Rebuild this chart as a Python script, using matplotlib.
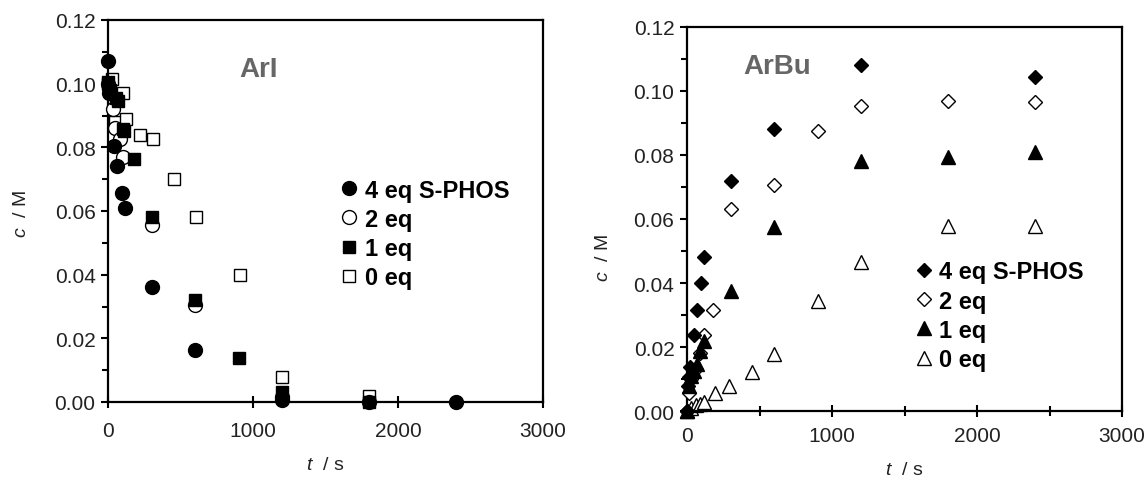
import matplotlib
matplotlib.use("Agg")
import matplotlib.pyplot as plt
from matplotlib.ticker import MultipleLocator, FormatStrFormatter

plt.rcParams['font.family'] = ['Liberation Sans', 'DejaVu Sans']
plt.rcParams['mathtext.fontset'] = 'custom'
plt.rcParams['mathtext.it'] = 'Liberation Sans:italic'
plt.rcParams['mathtext.rm'] = 'Liberation Sans'

# ---------------- ArI (left) ----------------
ari_t_4eq = [0, 10, 40, 62, 95, 120, 300, 600, 1200, 2400]
ari_c_4eq = [0.107, 0.097, 0.0805, 0.074, 0.0656, 0.061, 0.036, 0.0163, 0.0005, 0.0]

ari_t_2eq = [0, 15, 35, 45, 80, 100, 300, 600, 1200, 1800]
ari_c_2eq = [0.100, 0.097, 0.092, 0.086, 0.0826, 0.077, 0.0555, 0.0305, 0.0015, 0.0]

ari_t_1eq = [0, 15, 55, 70, 105, 110, 180, 300, 600, 900, 1200, 1800]
ari_c_1eq = [0.1005, 0.098, 0.0955, 0.0945, 0.0858, 0.085, 0.0763, 0.058, 0.032, 0.0138, 0.003, 0.0]

ari_t_0eq = [0, 30, 50, 105, 125, 220, 310, 455, 605, 910, 1200, 1800]
ari_c_0eq = [0.100, 0.1015, 0.088, 0.097, 0.089, 0.084, 0.0826, 0.070, 0.058, 0.040, 0.008, 0.002]

# ---------------- ArBu (right) ----------------
arbu_t_4eq = [0, 10, 15, 20, 45, 70, 95, 120, 300, 600, 1200, 2400]
arbu_c_4eq = [0.0, 0.0078, 0.0106, 0.0137, 0.0238, 0.0316, 0.040, 0.048, 0.072, 0.088, 0.108, 0.1045]

arbu_t_2eq = [0, 15, 30, 60, 90, 120, 180, 300, 600, 900, 1200, 1800, 2400]
arbu_c_2eq = [0.0, 0.0055, 0.010, 0.013, 0.018, 0.0238, 0.0316, 0.063, 0.0707, 0.0876, 0.0953, 0.097, 0.0966]

arbu_t_1eq = [0, 15, 30, 45, 70, 90, 120, 300, 600, 1200, 1800, 2400]
arbu_c_1eq = [0.0, 0.0078, 0.0110, 0.0125, 0.0147, 0.0188, 0.022, 0.0375, 0.0574, 0.078, 0.0793, 0.081]

arbu_t_0eq = [0, 30, 60, 90, 120, 190, 290, 450, 600, 900, 1200, 1800, 2400]
arbu_c_0eq = [0.0, 0.001, 0.0019, 0.0022, 0.0028, 0.0056, 0.0078, 0.0122, 0.0178, 0.0344, 0.0465, 0.0578, 0.0578]

labels = ['4 eq S-PHOS', '2 eq', '1 eq', '0 eq']

fig = plt.figure(figsize=(11.47, 4.81), dpi=100)
ax1 = fig.add_axes([108/1147, 1-403/481, 435/1147, 382/481])
ax2 = fig.add_axes([687/1147, 1-412/481, 435/1147, 384/481])

def style(ax, minor_x, xpad, xlabelpad):
    ax.set_xlim(0, 3000)
    ax.set_ylim(0, 0.12)
    ax.xaxis.set_major_locator(MultipleLocator(1000))
    ax.yaxis.set_major_locator(MultipleLocator(0.02))
    ax.yaxis.set_minor_locator(MultipleLocator(0.01))
    if minor_x:
        ax.xaxis.set_minor_locator(MultipleLocator(500))
    ax.yaxis.set_major_formatter(FormatStrFormatter('%.2f'))
    for s in ax.spines.values():
        s.set_linewidth(1.6)
        s.set_color('black')
    ax.tick_params(axis='y', which='major', direction='out', length=5, width=1.5,
                   labelsize=15, pad=4, colors='black', labelcolor='#222222')
    ax.tick_params(axis='y', which='minor', direction='out', length=4, width=1.5)
    ax.tick_params(axis='x', which='major', direction='inout', length=9, width=1.5,
                   labelsize=15, pad=xpad, labelcolor='#222222')
    ax.tick_params(axis='x', which='minor', direction='inout', length=7, width=1.5)
    ax.set_xlabel('$t$  / s', fontsize=14, color='#222222', labelpad=xlabelpad)
    ax.set_ylabel('$c$  / M', fontsize=14, color='#222222')

ms_open = dict(mfc='white', mec='black', mew=1.0, ls='none')
ms_fill = dict(mfc='black', mec='black', mew=1.0, ls='none')

h1 = ax1.plot(ari_t_4eq, ari_c_4eq, 'o', ms=10, clip_on=False, zorder=4, **ms_fill)[0]
h2 = ax1.plot(ari_t_2eq, ari_c_2eq, 'o', ms=10, clip_on=False, zorder=3, **ms_open)[0]
h3 = ax1.plot(ari_t_1eq, ari_c_1eq, 's', ms=9, clip_on=False, zorder=3.5, **ms_fill)[0]
h4 = ax1.plot(ari_t_0eq, ari_c_0eq, 's', ms=9, clip_on=False, zorder=2, **ms_open)[0]

g1 = ax2.plot(arbu_t_4eq, arbu_c_4eq, 'D', ms=7, clip_on=False, zorder=4, **ms_fill)[0]
g2 = ax2.plot(arbu_t_2eq, arbu_c_2eq, 'D', ms=7, clip_on=False, zorder=3, **ms_open)[0]
g3 = ax2.plot(arbu_t_1eq, arbu_c_1eq, '^', ms=10, clip_on=False, zorder=3.5, **ms_fill)[0]
g4 = ax2.plot(arbu_t_0eq, arbu_c_0eq, '^', ms=10, clip_on=False, zorder=2, **ms_open)[0]

style(ax1, False, 9, 12)
style(ax2, True, 6, 12)
ax1.yaxis.set_label_coords(-0.18, 0.495)
ax2.yaxis.set_label_coords(-0.172, 0.40)

ax1.text(0.345, 0.872, 'ArI', transform=ax1.transAxes, fontsize=20, fontweight='bold',
         color='#666666', ha='center', va='center')
ax2.text(0.207, 0.898, 'ArBu', transform=ax2.transAxes, fontsize=20, fontweight='bold',
         color='#666666', ha='center', va='center')

leg_kw = dict(frameon=False, prop={'weight': 'bold', 'size': 17}, handlelength=0.75,
              handletextpad=0.28, labelspacing=0.26, borderpad=0, borderaxespad=0,
              loc='upper left', numpoints=1)
ax1.legend([h1, h2, h3, h4], labels, bbox_to_anchor=(0.534, 0.585), **leg_kw)
ax2.legend([g1, g2, g3, g4], labels, bbox_to_anchor=(0.524, 0.392), **leg_kw)

fig.savefig('out.png', dpi=100)
